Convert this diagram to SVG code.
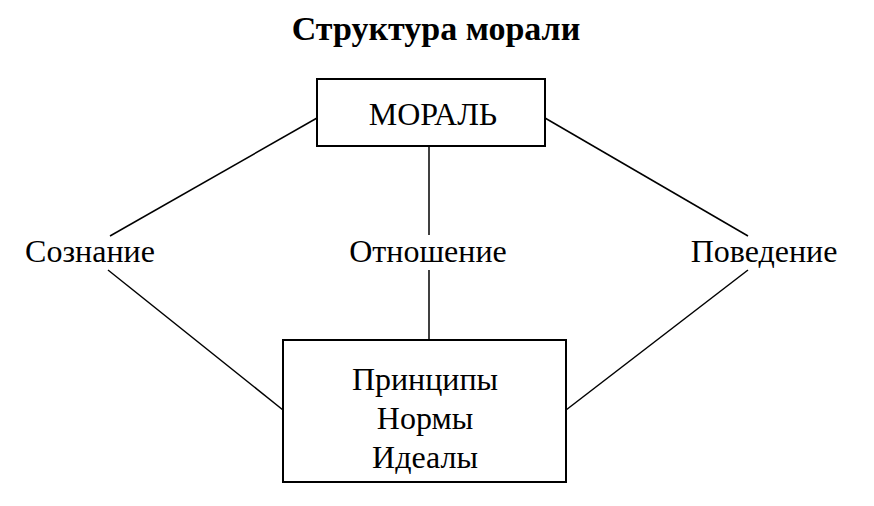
<svg xmlns="http://www.w3.org/2000/svg" width="874" height="506" viewBox="0 0 874 506">
<style>
text{font-family:"Liberation Serif","Times New Roman",serif;fill:#000;text-anchor:middle}
.b{fill:#fff;stroke:#000;stroke-width:2}
.l{stroke:#000;stroke-width:1.5;fill:none}
.t{font-size:32px}
</style>
<rect width="874" height="506" fill="#fff"/>
<text x="436" y="40" style="font-size:34px;font-weight:bold">Структура морали</text>
<g id="connectors">
<line class="l" x1="317" y1="118" x2="110" y2="236"/>
<line class="l" x1="108" y1="270" x2="283" y2="410"/>
<line class="l" x1="545" y1="118" x2="748" y2="236"/>
<line class="l" x1="748" y1="270" x2="566" y2="410"/>
<line class="l" x1="429" y1="146" x2="429" y2="235"/>
<line class="l" x1="429" y1="270" x2="429" y2="340"/>
</g>
<g id="moral"><rect class="b" x="317" y="79" width="228" height="67"/><text class="t" x="433" y="125">МОРАЛЬ</text></g>
<g id="soznanie"><text class="t" x="90" y="262">Сознание</text></g>
<g id="otnoshenie"><text class="t" x="428" y="262">Отношение</text></g>
<g id="povedenie"><text class="t" x="764" y="262">Поведение</text></g>
<g id="principles"><rect class="b" x="283" y="340" width="283" height="142"/>
<text class="t" x="425" y="390">Принципы</text>
<text class="t" x="425" y="429">Нормы</text>
<text class="t" x="425" y="468">Идеалы</text></g>
</svg>
